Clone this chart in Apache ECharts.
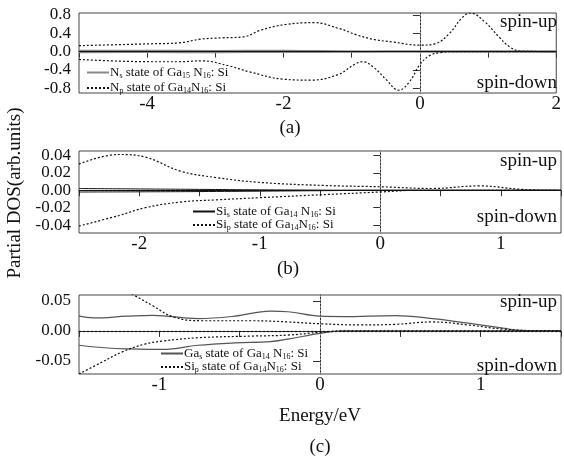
<!DOCTYPE html>
<html>
<head>
<meta charset="utf-8">
<script src="https://cdn.jsdelivr.net/npm/echarts@6/dist/echarts.min.js"></script>
<style>
  html, body { margin: 0; padding: 0; background: #fff; }
  #chart { width: 564px; height: 459px; }
</style>
</head>
<body>
<div id="chart"></div>
<script>
// (a) N states, pairs of [energy, dos]
var nsUpA = [[-5, 0.018], [-4, 0.02], [-3, 0.015], [-2, 0.02], [-1.5, 0.012], [-0.9, 0.004], [-0.5, 0], [2, 0]];
var nsDownA = [[-5, -0.012], [-4, -0.01], [-3, -0.012], [-2, -0.008], [-1, -0.004], [-0.5, 0], [2, 0]];
var npUpA = [[-5, 0.13], [-3.95, 0.17], [-3.53, 0.19], [-3.22, 0.27], [-2.9, 0.30], [-2.59, 0.32], [-2.33, 0.47],
  [-1.97, 0.59], [-1.55, 0.63], [-1.18, 0.50], [-0.92, 0.36], [-0.66, 0.26], [-0.4, 0.21], [0, 0.14],
  [0.22, 0.17], [0.43, 0.39], [0.62, 0.74], [0.74, 0.84], [0.95, 0.65], [1.16, 0.32], [1.32, 0.10],
  [1.48, 0.01], [2, 0]];
var npDownA = [[-5, -0.17], [-3.95, -0.22], [-3.53, -0.22], [-3.2, -0.20], [-2.8, -0.31], [-2.5, -0.44],
  [-2.0, -0.6], [-1.6, -0.62], [-1.2, -0.5], [-0.95, -0.27], [-0.84, -0.22], [-0.68, -0.34], [-0.5, -0.6],
  [-0.31, -0.84], [-0.15, -0.65], [0, -0.28], [0.15, -0.08], [0.3, -0.02], [0.5, 0], [2, 0]];

// (b) Si states
var sisUpB = [[-2.5, 0.002], [-1.5, 0.001], [-1.0, 0.0005], [0, 0], [1.5, 0]];
var sisDownB = [[-2.5, -0.002], [-1.5, -0.0015], [-0.5, -0.0005], [0, 0], [1.5, 0]];
var sipUpB = [[-2.5, 0.03], [-2.17, 0.041], [-1.95, 0.038], [-1.66, 0.022], [-1.36, 0.0145], [-1.0, 0.009],
  [-0.47, 0.0055], [0, 0.004], [0.43, 0.002], [0.82, 0.005], [1.18, 0.001], [1.5, 0]];
var sipDownB = [[-2.5, -0.041], [-2.17, -0.029], [-1.95, -0.02], [-1.66, -0.0135], [-1.36, -0.011],
  [-1.0, -0.0085], [-0.47, -0.005], [0, -0.002], [0.3, 0], [1.5, 0]];

// (c) Ga s and Si p states
var gasUpC = [[-1.5, 0.0246], [-1.41, 0.0217], [-1.2, 0.0246], [-1.04, 0.026], [-0.76, 0.0206], [-0.53, 0.0246],
  [-0.31, 0.033], [-0.2, 0.032], [0, 0.0246], [0.14, 0.024], [0.47, 0.0257], [0.7, 0.0206], [0.92, 0.013],
  [1.14, 0.0046], [1.25, 0.001], [1.5, 0]];
var gasDownC = [[-1.5, -0.024], [-1.32, -0.0286], [-1.2, -0.03], [-0.98, -0.031], [-0.76, -0.024], [-0.53, -0.02],
  [-0.31, -0.018], [-0.2, -0.0137], [0, -0.004], [0.14, 0], [1.5, 0]];
var sipUpC = [[-1.5, 0.11], [-1.3, 0.08], [-1.16, 0.06], [-1.04, 0.042], [-0.91, 0.023], [-0.73, 0.017],
  [-0.42, 0.017], [-0.2, 0.015], [0, 0.012], [0.25, 0.010], [0.47, 0.011], [0.7, 0.015], [0.92, 0.01],
  [1.14, 0.003], [1.4, 0], [1.5, 0]];
var sipDownC = [[-1.5, -0.072], [-1.36, -0.0526], [-1.23, -0.035], [-1.09, -0.022], [-0.98, -0.017],
  [-0.76, -0.0114], [-0.42, -0.0086], [-0.2, -0.007], [0, -0.0023], [0.14, 0], [1.5, 0]];

// tick labels
var yTicksA = [-0.8, -0.4, 0, 0.4, 0.8];
var yTicksB = [-0.04, -0.02, 0, 0.02, 0.04];
var yTicksC = [-0.05, 0, 0.05];

var FONT = 'Liberation Serif';
var chart = echarts.init(document.getElementById('chart'));

var legendText = {
  'Ns_a': '{t|N}{s|s}{t| state of Ga}{s|15}{t| N}{s|16}{t|: Si}',
  'Np_a': '{t|N}{s|p}{t| state of Ga}{s|14}{t|N}{s|16}{t|: Si}',
  'Sis_b': '{t|Si}{s|s}{t| state of Ga}{s|14}{t| N}{s|16}{t|: Si}',
  'Sip_b': '{t|Si}{s|p}{t| state of Ga}{s|14}{t|N}{s|16}{t|: Si}',
  'Gas_c': '{t|Ga}{s|s}{t| state of Ga}{s|14}{t| N}{s|16}{t|: Si}',
  'Sip_c': '{t|Si}{s|p}{t| state of Ga}{s|14}{t|N}{s|16}{t|: Si}'
};

var rich = {
  t: { fontFamily: FONT, fontSize: 13, color: '#111', lineHeight: 14 },
  s: { fontFamily: FONT, fontSize: 8, color: '#111', lineHeight: 9, verticalAlign: 'bottom' }
};

function makeLegend(names, left, top, gap) {
  return {
    data: names,
    orient: 'vertical',
    left: left,
    top: top,
    itemWidth: 22,
    itemHeight: 8,
    itemGap: gap,
    padding: 0,
    selectedMode: false,
    itemStyle: { color: 'rgba(0,0,0,0)', borderWidth: 0 },
    formatter: function (n) { return legendText[n]; },
    textStyle: { rich: rich, padding: [0, 0, 0, -4] }
  };
}

function xAxisOf(grid, min, max, step, showFn) {
  return {
    type: 'value', gridIndex: grid, min: min, max: max, interval: step,
    axisLine: { lineStyle: { color: '#333', width: 1 } },
    axisTick: { inside: false, length: 6, lineStyle: { color: '#333' } },
    splitLine: { show: false },
    axisLabel: {
      margin: 2, fontFamily: FONT, fontSize: 19, color: '#111', hideOverlap: false,
      formatter: function (v) { return showFn(v) ? String(v) : ''; }
    }
  };
}

function yAxisOf(grid, min, max, ticks, digits) {
  return {
    type: 'value', gridIndex: grid, min: min, max: max,
    axisLine: { show: true, lineStyle: { color: '#333', width: 1 } },
    axisTick: { show: true, length: 7, customValues: ticks, lineStyle: { color: '#333' } },
    splitLine: { show: false },
    axisLabel: {
      margin: 8, fontFamily: FONT, fontSize: 17, color: '#111', customValues: ticks,
      hideOverlap: false, showMinLabel: true, showMaxLabel: true,
      formatter: function (v) { return v.toFixed(digits); }
    }
  };
}

var dotted = { type: [2, 2], width: 1.2, color: '#111' };

function line(name, idx, data, style, extra) {
  var s = {
    name: name, type: 'line', xAxisIndex: idx, yAxisIndex: idx, data: data,
    smooth: 0.4, symbol: 'none', lineStyle: style, itemStyle: { color: style.color },
    clip: true, silent: true
  };
  if (extra) s.markLine = extra;
  return s;
}

function zeroLines(hStyle) {
  return {
    silent: true, symbol: 'none', label: { show: false },
    data: [
      { xAxis: 0, lineStyle: { type: [1.5, 2], color: '#999', width: 1 } },
      { yAxis: 0, lineStyle: hStyle }
    ]
  };
}

function caption(text, x, y, size, rotate) {
  return {
    type: 'text', x: x, y: y, rotation: rotate || 0,
    style: { text: text, fontFamily: FONT, fontSize: size, fill: '#111', align: 'center', verticalAlign: 'middle' }
  };
}

function spin(text, y) {
  return {
    type: 'text', x: 557, y: y,
    style: { text: text, fontFamily: FONT, fontSize: 19, fill: '#111', align: 'right', verticalAlign: 'middle' }
  };
}

var option = {
  animation: false,
  backgroundColor: '#fff',
  grid: [
    { left: 79, width: 482, top: 13, height: 80, show: true, borderColor: '#444', borderWidth: 1 },
    { left: 79, width: 482, top: 151, height: 82, show: true, borderColor: '#444', borderWidth: 1 },
    { left: 79, width: 482, top: 295, height: 79, show: true, borderColor: '#444', borderWidth: 1 }
  ],
  xAxis: [
    xAxisOf(0, -5, 2, 1, function (v) { return v % 2 === 0; }),
    xAxisOf(1, -2.5, 1.5, 0.5, function (v) { return Number.isInteger(v); }),
    xAxisOf(2, -1.5, 1.5, 0.5, function (v) { return Number.isInteger(v); })
  ],
  yAxis: [
    yAxisOf(0, -0.9, 0.84, yTicksA, 1),
    yAxisOf(1, -0.049, 0.045, yTicksB, 2),
    yAxisOf(2, -0.072, 0.06, yTicksC, 2)
  ],
  legend: [
    makeLegend(['Ns_a', 'Np_a'], 86, 66, 2),
    makeLegend(['Sis_b', 'Sip_b'], 192, 205, 0),
    makeLegend(['Gas_c', 'Sip_c'], 160, 347, 0)
  ],
  series: [
    line('Ns_a', 0, nsUpA, { color: '#888', width: 2 }, zeroLines({ type: 'solid', color: '#111', width: 1.2 })),
    line('Ns_a', 0, nsDownA, { color: '#888', width: 2 }),
    line('Np_a', 0, npUpA, dotted),
    line('Np_a', 0, npDownA, dotted),

    line('Sis_b', 1, sisUpB, { color: '#111', width: 1 }, zeroLines({ type: 'solid', color: '#111', width: 1.2 })),
    line('Sis_b', 1, sisDownB, { color: '#111', width: 1 }),
    line('Sip_b', 1, sipUpB, dotted),
    line('Sip_b', 1, sipDownB, dotted),

    line('Gas_c', 2, gasUpC, { color: '#555', width: 1.2 }, zeroLines({ type: [2, 2], color: '#111', width: 1.2 })),
    line('Gas_c', 2, gasDownC, { color: '#555', width: 1.2 }),
    line('Sip_c', 2, sipUpC, dotted),
    line('Sip_c', 2, sipDownC, dotted)
  ],
  graphic: [
    spin('spin-up', 22), spin('spin-down', 83),
    spin('spin-up', 161), spin('spin-down', 217),
    spin('spin-up', 302), spin('spin-down', 366),
    caption('(a)', 290, 128, 19),
    caption('(b)', 288, 269, 19),
    caption('Energy/eV', 320, 416, 19),
    caption('(c)', 320, 447, 19),
    caption('Partial DOS(arb.units)', 15, 193, 19, Math.PI / 2)
  ]
};

chart.setOption(option);
</script>
</body>
</html>
